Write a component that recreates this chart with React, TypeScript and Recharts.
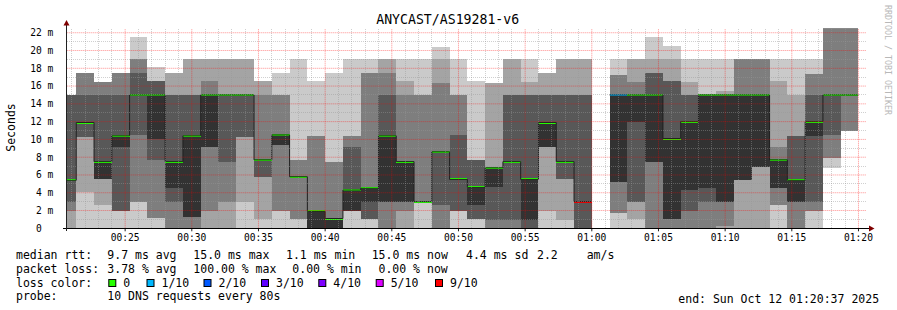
import { ComposedChart, Area, Line, XAxis, YAxis, ReferenceLine } from 'recharts'

// 80s steps, start time of each (the first one is cut by the graph start)
const stepStarts = [
  '00:20:00', '00:21:20', '00:22:40', '00:24:00', '00:25:20', '00:26:40', '00:28:00', '00:29:20', '00:30:40',
  '00:32:00', '00:33:20', '00:34:40', '00:36:00', '00:37:20', '00:38:40', '00:40:00', '00:41:20', '00:42:40',
  '00:44:00', '00:45:20', '00:46:40', '00:48:00', '00:49:20', '00:50:40', '00:52:00', '00:53:20', '00:54:40',
  '00:56:00', '00:57:20', '00:58:40', '01:00:00', '01:01:20', '01:02:40', '01:04:00', '01:05:20', '01:06:40',
  '01:08:00', '01:09:20', '01:10:40', '01:12:00', '01:13:20', '01:14:40', '01:16:00', '01:17:20', '01:18:40',
]
const lastStepEnd = '01:20:00'
const graphStart = '00:20:37'
const graphEnd = '01:20:37'

// sorted ping rtts (ms), rank 1 (fastest) .. rank 10 (slowest)
const ping1 = [0, 0, 0, 0, 0, 0, 0, 0, 0, 0, 0, 0, 0, 0, 0, 0, 0, 0, 0, 0, 0, 0, 0, 0, 0, 0, 0, 0, 0, 0, null, 0, 0, 0, 0, 0, 0, 0, 0, 0, 0, 0, 0, 6.75, 11.0]
const ping2 = [0, 4.1, 2.6, 1.9, 3.0, 1.2, 0, 0, 0, 0, 3.0, 1.1, 1.9, 1.1, 0, 0, 1.9, 1.1, 0, 0, 3.0, 0, 1.9, 1.1, 0, 0, 0, 1.9, 0.9, 0, null, 1.7, 1.1, 0, 0, 0, 0, 0, 0, 0, 2.6, 0, 1.9, 7.9, 11.0]
const ping3 = [1.9, 10.3, 5.5, 1.9, 3.0, 1.2, 0, 0, 1.9, 3.0, 10.3, 5.8, 1.9, 1.1, 0, 0, 1.9, 1.1, 0, 1.9, 3.0, 0, 1.9, 1.1, 0, 0, 0, 9.2, 5.5, 0, null, 1.7, 3.0, 0, 0, 0, 0, 0.3, 5.4, 6.9, 2.6, 0, 1.9, 7.9, 11.0]
const ping4 = [3.0, 10.3, 5.5, 1.9, 10.5, 7.7, 3.0, 1.3, 9.2, 7.5, 10.3, 5.8, 9.4, 5.8, 0, 0, 1.9, 1.1, 3.0, 3.0, 3.0, 2.6, 1.9, 1.1, 0.9, 0.9, 0, 9.2, 5.5, 0, null, 5.2, 3.0, 7.5, 1.1, 1.9, 3.0, 3.0, 5.4, 6.9, 4.5, 3.0, 3.0, 10.5, 15]
const ping5 = [5.3, 11.8, 5.5, 9.2, 15, 10.1, 4.5, 1.3, 9.2, 15, 15, 7.6, 9.4, 5.8, 0, 0, 1.9, 3.0, 3.0, 3.0, 3.0, 8.5, 5.4, 2.6, 4.7, 7.4, 0.9, 9.2, 7.4, 2.9, null, 5.2, 12.0, 7.5, 1.1, 4.3, 4.5, 3.0, 5.4, 6.9, 4.5, 3.0, 10.4, 15, 15]
const ping6 = [5.5, 12.0, 7.5, 10.4, 15, 15, 7.5, 10.4, 15, 15, 15, 7.7, 10.5, 5.8, 1.9, 1.1, 4.3, 4.5, 10.4, 7.5, 3.0, 8.6, 5.5, 4.6, 6.8, 7.5, 5.5, 11.9, 7.5, 3.0, null, 15, 15, 15, 10.1, 12.0, 15, 15, 15, 15, 7.7, 5.4, 12.0, 15, 15]
const ping7 = [15, 15, 15, 15, 17.5, 16.6, 15, 15, 15, 15, 15, 7.7, 10.5, 5.8, 1.9, 1.1, 9.2, 4.6, 15, 7.5, 3.0, 8.6, 10.5, 7.7, 6.8, 15, 15, 15, 15, 15, null, 15, 15, 17.5, 16.6, 15, 15, 15, 15, 15, 7.7, 10.4, 15, 15, 15]
const ping8 = [15, 17.5, 16.5, 17.5, 19.0, 16.6, 15, 15, 16.6, 15, 15, 15, 15, 7.7, 10.4, 7.5, 10.4, 17.5, 17.5, 15, 15, 16.3, 15, 7.7, 6.8, 15, 15, 15, 15, 15, null, 17.2, 16.5, 17.5, 16.6, 15, 15, 15, 19.0, 19.0, 9.2, 10.4, 17.4, 22.5, 22.5]
const ping9 = [15, 17.5, 16.5, 17.5, 19.0, 16.6, 17.5, 19.0, 19.0, 19.0, 19.0, 16.6, 15, 7.7, 10.4, 7.5, 10.4, 17.5, 19.0, 16.6, 15, 19.0, 15, 7.7, 16.3, 19.0, 16.5, 17.5, 19.0, 19.0, null, 17.2, 19.0, 19.0, 19.0, 16.5, 15, 15.5, 19.0, 19.0, 16.6, 15, 17.4, 22.5, 22.5]
const ping10 = [15, 17.5, 16.5, 17.5, 21.5, 18.2, 17.5, 19.0, 19.0, 19.0, 19.0, 16.6, 17.5, 19.0, 16.6, 17.5, 19.0, 19.0, 19.0, 19.0, 19.0, 20.4, 19.0, 16.6, 16.3, 19.0, 19.0, 17.5, 19.0, 19.0, null, 19.0, 19.0, 21.5, 20.5, 19.0, 19.0, 19.0, 19.0, 19.0, 19.0, 19.0, 19.0, 22.5, 22.5]

const median = [5.4, 11.9, 7.5, 10.4, 15, 15, 7.5, 10.4, 15, 15, 15, 7.7, 10.5, 5.8, 1.9, 1.1, 4.3, 4.5, 10.4, 7.5, 3.0, 8.6, 5.5, 4.6, 6.8, 7.5, 5.5, 11.9, 7.5, 3.0, null, 15, 15, 15, 10.1, 12.0, 15, 15, 15, 15, 7.7, 5.4, 12.0, 15, 15]
// lost pings out of 10
const lost = [0, 0, 0, 0, 0, 0, 0, 0, 0, 0, 0, 0, 0, 0, 0, 0, 0, 0, 0, 0, 0, 0, 0, 0, 0, 0, 0, 0, 0, 9, 10, 1, 0, 0, 0, 0, 0, 0, 0, 0, 0, 0, 0, 0, 0]

const xTickLabels = ['00:25', '00:30', '00:35', '00:40', '00:45', '00:50', '00:55', '01:00', '01:05', '01:10', '01:15', '01:20']
const yTicks = [0, 2, 4, 6, 8, 10, 12, 14, 16, 18, 20, 22]
const yMax = 22.5

const SMOKE = ['#cacaca', '#a4a4a4', '#7e7e7e', '#585858', '#323232']
const LOSS_LEGEND: [string, string, number][] = [
  ['0', '#26ff00', 0],
  ['1/10', '#00b8ff', 1],
  ['2/10', '#0059ff', 2],
  ['3/10', '#5e00ff', 3],
  ['4/10', '#7e00ff', 4],
  ['5/10', '#dd00ff', 5],
  ['9/10', '#ff0000', 9],
]
const LEGEND_BOX_X = [108.3, 146.5, 203.5, 261, 318.3, 375.7, 435]

const MONO = 'DejaVu Sans Mono'
const toSec = (hms: string) => {
  const [h, m, s = 0] = hms.split(':').map(Number)
  return h * 3600 + m * 60 + s
}
const hhmm = (t: number) => {
  const h = Math.floor(t / 3600)
  const m = Math.floor((t % 3600) / 60)
  return `${String(h).padStart(2, '0')}:${String(m).padStart(2, '0')}`
}

const pings = [ping1, ping2, ping3, ping4, ping5, ping6, ping7, ping8, ping9, ping10]
const halfBand = yMax / 200

const rows: any[] = []
stepStarts.forEach((start, i) => {
  const end = i + 1 < stepStarts.length ? stepStarts[i + 1] : lastStepEnd
  const p = pings.map(a => a[i])
  const row: any = {}
  for (let k = 0; k < 5; k++) row['smoke' + k] = p[k] == null ? null : [p[k], p[9 - k]]
  const m = median[i]
  row.med = m
  for (const [, , lv] of LOSS_LEGEND) {
    row['loss' + lv] = m != null && lost[i] === lv ? [m - halfBand, m + halfBand] : null
  }
  rows.push({ t: toSec(start), ...row }, { t: toSec(end), ...row })
})

const xTicks = xTickLabels.map(toSec)
const minorX: number[] = []
for (let t = toSec('00:21'); t <= toSec('01:20'); t += 60) if (!xTicks.includes(t)) minorX.push(t)
const minorY: number[] = []
const majorY: number[] = []
for (let v = 1; v <= 22; v++) (v % 2 ? minorY : majorY).push(v)

const GRID = 'rgba(150,150,150,0.45)'
const MGRID = 'rgba(255,0,0,0.45)'
const GRID_Z = 1500

const legendRow1: [string, number][] = [
  ['median rtt:', 16], ['9.7 ms avg', 107.3], ['15.0 ms max', 193.3], ['1.1 ms min', 286],
  ['15.0 ms now', 371.7], ['4.4 ms sd', 466], ['2.2', 537], ['am/s', 586.7],
]
const legendRow2: [string, number][] = [
  ['packet loss:', 16], ['3.78 % avg', 107.3], ['100.00 % max', 193.3], ['0.00 % min', 292.3], ['0.00 % now', 378.5],
]

export default function App() {
  return (
    <div style={{ position: 'relative', width: 897, height: 310, background: '#fff' }}>
      <style>{'body{margin:0}'}</style>
      <ComposedChart
        width={897}
        height={310}
        data={rows}
        margin={{ top: 28.3, right: 30.3, bottom: 0, left: 0 }}
      >
        <XAxis
          type="number"
          dataKey="t"
          domain={[toSec(graphStart), toSec(graphEnd)]}
          allowDataOverflow
          ticks={xTicks}
          interval={0}
          tickFormatter={hhmm}
          height={81.7}
          axisLine={false}
          tickLine={{ stroke: '#202020' }}
          tickSize={3}
          tickMargin={3}
          tick={{ fontFamily: MONO, fontSize: 9.6, fill: '#000' }}
        />
        <YAxis
          type="number"
          domain={[0, yMax]}
          allowDataOverflow
          ticks={yTicks}
          interval={0}
          width={66.7}
          axisLine={false}
          tickLine={false}
          tickMargin={7.4}
          tickFormatter={(v: number) => (v === 0 ? '0\u00a0\u00a0' : `${v} m`)}
          tick={{ fontFamily: MONO, fontSize: 9.6, fill: '#000' }}
        />
        {SMOKE.map((c, k) => (
          <Area
            key={'smoke' + k}
            dataKey={'smoke' + k}
            type="linear"
            fill={c}
            fillOpacity={1}
            stroke="none"
            shapeRendering="crispEdges"
            isAnimationActive={false}
            dot={false}
            activeDot={false}
          />
        ))}
        <Line dataKey="med" type="linear" stroke="#202020" strokeWidth={1} dot={false} activeDot={false} isAnimationActive={false} />
        {LOSS_LEGEND.map(([, c, lv]) => (
          <Area
            key={'loss' + lv}
            dataKey={'loss' + lv}
            type="linear"
            fill={c}
            fillOpacity={1}
            stroke="none"
            shapeRendering="crispEdges"
            isAnimationActive={false}
            dot={false}
            activeDot={false}
          />
        ))}
        {minorY.map(v => (
          <ReferenceLine key={'gy' + v} y={v} stroke={GRID} strokeDasharray="1 1" shapeRendering="crispEdges" zIndex={GRID_Z} />
        ))}
        {minorX.map(t => (
          <ReferenceLine key={'gx' + t} x={t} stroke={GRID} strokeDasharray="1 1" shapeRendering="crispEdges" zIndex={GRID_Z} />
        ))}
        {majorY.map(v => (
          <ReferenceLine key={'my' + v} y={v} stroke={MGRID} strokeWidth={1} strokeDasharray="1 1" zIndex={GRID_Z} />
        ))}
        {xTicks.map(t => (
          <ReferenceLine key={'mx' + t} x={t} stroke={MGRID} strokeWidth={1} strokeDasharray="1 1" zIndex={GRID_Z} />
        ))}
      </ComposedChart>
      <svg
        width={897}
        height={310}
        style={{ position: 'absolute', left: 0, top: 0, pointerEvents: 'none' }}
        fontFamily={MONO}
      >
        <text x={447.7} y={24} textAnchor="middle" fontSize={13.2} fill="#000">
          ANYCAST/AS19281-v6
        </text>
        <text x={15} y={127.5} textAnchor="middle" fontSize={11.5} fill="#000" transform="rotate(-90 15 127.5)">
          Seconds
        </text>
        <text x={884.8} y={5} fontSize={8.3} fill="#b8b8b8" transform="rotate(90 884.8 5)">
          RRDTOOL / TOBI OETIKER
        </text>
        {/* axes */}
        <line x1={63} y1={228.5} x2={869} y2={228.5} stroke="#000" />
        <line x1={66.5} y1={231} x2={66.5} y2={25} stroke="#202020" />
        <path d="M869,225.5 L874.5,228.5 L869,231.5 Z" fill="#7f0000" />
        <path d="M63.5,25.5 L66.5,20 L69.5,25.5 Z" fill="#7f0000" />
        {/* legend */}
        <g fontSize={11.5} fill="#000">
          {legendRow1.map(([s, x]) => (
            <text key={'a' + s} x={x} y={258.5} xmlSpace="preserve">{s}</text>
          ))}
          {legendRow2.map(([s, x]) => (
            <text key={'b' + s} x={x} y={272.5} xmlSpace="preserve">{s}</text>
          ))}
          <text x={16} y={286.5}>loss color:</text>
          {LOSS_LEGEND.map(([label, c], i) => (
            <g key={'l' + label}>
              <rect x={LEGEND_BOX_X[i] + 0.5} y={279.5} width={7} height={7} fill={c} stroke="#000" />
              <text x={LEGEND_BOX_X[i] + 15} y={286.5}>{label}</text>
            </g>
          ))}
          <text x={16} y={299.5}>probe:</text>
          <text x={107.3} y={299.5}>10 DNS requests every 80s</text>
          <text x={678.3} y={302.8}>end: Sun Oct 12 01:20:37 2025</text>
        </g>
      </svg>
    </div>
  )
}
